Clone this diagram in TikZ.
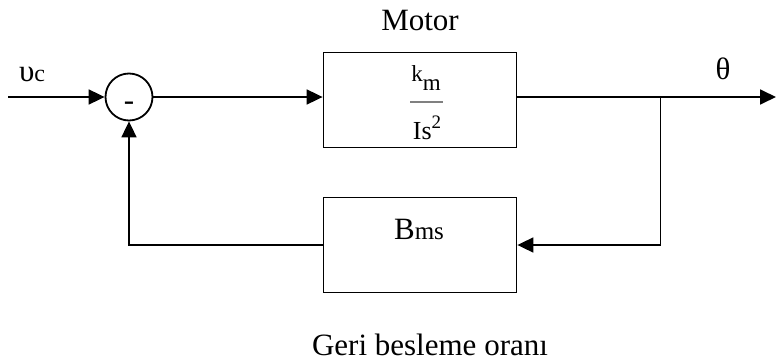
\documentclass[tikz,border=0pt]{standalone}
\usepackage{fontspec}
\setmainfont{Liberation Serif}
\usetikzlibrary{arrows.meta, positioning, calc}

\newcommand{\fsz}[1]{\fontsize{#1}{#1}\selectfont}

\begin{document}
\begin{tikzpicture}[
    x=1pt, y=-1pt,
    >={Triangle[length=16pt, width=15pt]},
    blockbox/.style={
      draw, line width=1.8pt, inner sep=0pt,
      minimum width=193pt, minimum height=95pt,
    },
    sumnode/.style={
      draw, circle, line width=1.8pt, inner sep=0pt, minimum size=47pt,
    },
    flow arrow/.style={->, line width=1.8pt},
    every node/.style={font=\fsz{31}},
  ]

  %% ---- frame: same size as the reference ----
  \useasboundingbox (0,0) rectangle (776,361);

  %% ---- blocks ----
  \node[sumnode]  (sum)   at (129,97)  {};
  \node[blockbox] (motor) at (420,100) {};
  \node[blockbox] (fb)    at (420,245) {};

  % minus sign in the summing point
  \node[inner sep=0pt] (minus) at ([yshift=-9pt]sum.center) {-};

  % transfer function k_m / Is^2
  \node[font=\fsz{23}, inner sep=0pt] (km) at (426,78)
    {k\raisebox{-9pt}{m}};
  \node[font=\fsz{26}, inner sep=0pt] (Is2) at (427,128)
    {Is\raisebox{11pt}{\fsz{19}2}};
  \coordinate (barL) at (410,102);
  \coordinate (barR) at (443,102);
  \draw[gray, line width=2pt] (barL) -- (barR);

  % feedback gain
  \node[inner sep=0pt] (bms) at (419,229) {B{\fsz{25}ms}};

  %% ---- labels ----
  \node (motorlabel) at (420,21)  {Motor};
  \node (vc)         at (32,74)   {υ{\fsz{24}c}};
  \node (theta)      at (723,69)  {θ};
  \node (ratio)      at (430,345) {Geri besleme oranı};

  %% ---- signal lines ----
  \coordinate (in)     at (8,97);
  \coordinate (out)    at (776,97);
  \coordinate (branch) at ($(motor.east |- sum)+(143,0)$);

  \draw[flow arrow] (in) -- (sum.west);
  \draw[flow arrow] (sum.east) -- (sum.east -| motor.west);
  \draw[flow arrow] (motor.east |- sum) -- (out);
  \draw[flow arrow] (branch) |- (fb.east);
  \draw[flow arrow] (fb.west) -| (sum.south);

\end{tikzpicture}
\end{document}
